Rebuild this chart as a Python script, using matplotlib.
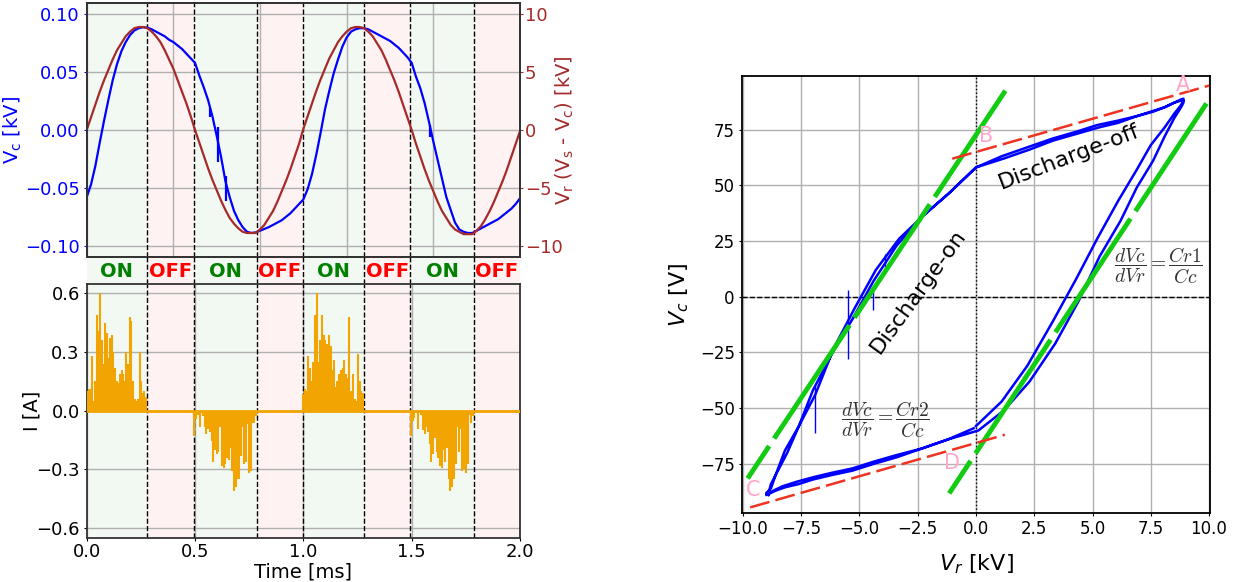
import numpy as np
import matplotlib
matplotlib.use("Agg")
import matplotlib.pyplot as plt

plt.rcParams['font.family'] = ['DejaVu Sans']

# ---------------- data ----------------
# sampling grid of the voltage records (ms)
t_step = 0.02
t_ms = np.round(np.arange(0, 2.0 + t_step / 2, t_step), 3)

# reactor voltage Vr (kV)
vr_kv = [
    0.0, 1.1, 2.2, 3.3, 4.3, 5.2, 6.1, 6.9, 7.5, 8.1, 8.5, 8.8, 8.9, 8.9, 8.8,
    8.5, 8.1, 7.6, 6.9, 6.1, 5.3, 4.3, 3.3, 2.3, 1.2,
    0.0, -1.1, -2.2, -3.3, -4.3, -5.2, -6.1, -6.9, -7.6, -8.1, -8.5, -8.8, -8.9,
    -8.9, -8.9, -8.6, -8.2, -7.6, -7.0, -6.2, -5.3, -4.4, -3.4, -2.3, -1.2,
    0.1, 1.2, 2.3, 3.4, 4.4, 5.3, 6.2, 6.9, 7.6, 8.1, 8.5, 8.8, 8.9, 8.9, 8.8,
    8.5, 8.1, 7.5, 6.9, 6.1, 5.2, 4.3, 3.3, 2.2, 1.1,
    0.0, -1.2, -2.3, -3.4, -4.4, -5.3, -6.2, -7.0, -7.6, -8.2, -8.6, -8.8, -9.0,
    -9.0, -9.0, -8.7, -8.3, -7.7, -7.0, -6.2, -5.3, -4.4, -3.4, -2.3, -1.2, -0.1,
]

# capacitor voltage Vc (kV)
vc_kv = [
    -0.058, -0.047, -0.031, -0.011, 0.008, 0.026, 0.043, 0.057, 0.068, 0.076,
    0.082, 0.086, 0.088, 0.0888, 0.0885, 0.087, 0.085, 0.083, 0.081, 0.078,
    0.076, 0.073, 0.070, 0.066, 0.062,
    0.058, 0.047, 0.037, 0.026, 0.012, -0.005, -0.023, -0.044, -0.058, -0.070,
    -0.078, -0.084, -0.088, -0.089, -0.0885, -0.087, -0.0855, -0.084, -0.082,
    -0.080, -0.078, -0.075, -0.072, -0.068, -0.064,
    -0.060, -0.051, -0.038, -0.021, -0.002, 0.018, 0.034, 0.049, 0.061, 0.072,
    0.080, 0.085, 0.087, 0.088, 0.088, 0.087, 0.085, 0.083, 0.081, 0.079,
    0.077, 0.074, 0.071, 0.067, 0.063,
    0.058, 0.046, 0.036, 0.023, 0.007, -0.010, -0.026, -0.042, -0.058, -0.069,
    -0.080, -0.086, -0.088, -0.089, -0.089, -0.087, -0.085, -0.083, -0.081,
    -0.079, -0.077, -0.074, -0.071, -0.068, -0.064, -0.059,
]

# short glitches on the Vc record: time, Vr at that time, low / high Vc (kV)
spike_t = [0.571, 0.606, 0.641, 1.583]
spike_vr = [-3.9, -5.5, -6.9, -4.4]
spike_lo = [0.011, -0.028, -0.061, -0.006]
spike_hi = [0.019, 0.003, -0.040, 0.004]

# discharge phases (ms)
phase_edges = [0.0, 0.278, 0.495, 0.786, 0.997, 1.280, 1.494, 1.786, 2.0]
phase_state = ['ON', 'OFF', 'ON', 'OFF', 'ON', 'OFF', 'ON', 'OFF']

# discharge current pulses (A), one list per ON phase
i_on1 = [0.10, 0.11, 0.11, 0.28, 0.05, 0.15, 0.49, 0.41, 0.60, 0.36, 0.24, 0.45,
         0.40, 0.27, 0.37, 0.39, 0.30, 0.22, 0.15, 0.14, 0.19, 0.21, 0.19, 0.15,
         0.30, 0.24, 0.48, 0.46, 0.15, 0.06, 0.05, 0.06, 0.30, 0.15, 0.09, 0.10,
         0.07]
i_on2 = [-0.13, -0.04, -0.02, -0.085, -0.01, -0.025, -0.085, -0.12, -0.095,
         -0.11, -0.155, -0.26, -0.20, -0.22, -0.21, -0.085, -0.28, -0.29, -0.27,
         -0.24, -0.25, -0.19, -0.31, -0.41, -0.39, -0.35, -0.35, -0.23, -0.085,
         -0.27, -0.26, -0.07, -0.32, -0.31, -0.06, -0.06, -0.025]
i_on3 = [0.086, 0.11, 0.10, 0.28, 0.22, 0.15, 0.25, 0.49, 0.60, 0.25, 0.36,
         0.49, 0.39, 0.36, 0.34, 0.39, 0.33, 0.21, 0.26, 0.12, 0.15, 0.19, 0.21,
         0.22, 0.26, 0.19, 0.17, 0.48, 0.10, 0.19, 0.06, 0.05, 0.29, 0.15, 0.10,
         0.09]
i_on4 = [-0.13, -0.05, -0.035, -0.01, -0.095, -0.01, -0.02, -0.10, -0.12,
         -0.085, -0.11, -0.17, -0.26, -0.22, -0.14, -0.21, -0.24, -0.28, -0.29,
         -0.20, -0.26, -0.19, -0.35, -0.41, -0.39, -0.35, -0.27, -0.085, -0.21,
         -0.095, -0.31, -0.30, -0.32, -0.27, -0.02, -0.06, -0.025]
i_bursts = [i_on1, i_on2, i_on3, i_on4]

# straight-line guides on the Vc-Vr plane: endpoints (kV, V)
on_vr = [[-9.8, 1.26], [-1.15, 9.89]]
on_vc = [[-81.5, 92.4], [-88.2, 86.7]]
off_vr = [[-1.02, 10.0], [-9.69, 1.24]]
off_vc = [[61.9, 94.7], [-94.5, -61.9]]

corner_names = ['A', 'B', 'C', 'D']
corner_vr = [8.9, 0.45, -9.58, -1.03]
corner_vc = [95.0, 72.0, -86.7, -74.7]

# ---------------- styling ----------------
C_VC = 'blue'
C_VR = 'brown'
C_I = '#f2a500'
GRID = dict(color='#b0b0b0', lw=1.0)
FRAME = '#333333'

fig = plt.figure(figsize=(12.39, 5.82), dpi=100)
ax_v = fig.add_axes([0.06998, 0.55893, 0.34972, 0.43540])
ax_r = ax_v.twinx()
ax_band = fig.add_axes([0.06998, 0.51186, 0.34972, 0.04708])
ax_i = fig.add_axes([0.06998, 0.07646, 0.34972, 0.43540])
ax_L = fig.add_axes([0.59871, 0.11857, 0.37805, 0.75085])


def shade_phases(ax):
    for a, b, s in zip(phase_edges[:-1], phase_edges[1:], phase_state):
        ax.axvspan(a, b, color='green' if s == 'ON' else 'red', alpha=0.05, lw=0,
                   zorder=0)
    for b in phase_edges[1:-1]:
        ax.axvline(b, color='black', ls='--', lw=1.0, zorder=2.5)


# ---- voltages vs time ----
shade_phases(ax_v)
ax_v.plot(t_ms, vc_kv, color=C_VC, lw=1.6, zorder=3)
ax_v.vlines(spike_t, spike_lo, spike_hi, color=C_VC, lw=1.6, zorder=3)
ax_r.plot(t_ms, vr_kv, color=C_VR, lw=1.6)
ax_v.set_xlim(0, 2)
ax_v.set_xticks(np.arange(0, 2.01, 0.4))
ax_v.tick_params(axis='x', labelbottom=False, length=0)
ax_v.set_ylim(-0.1095, 0.1095)
ax_v.set_yticks([-0.10, -0.05, 0.0, 0.05, 0.10])
ax_r.set_ylim(-10.95, 10.95)
ax_r.set_yticks([-10, -5, 0, 5, 10])
ax_v.grid(True, **GRID)
ax_v.tick_params(axis='y', colors=C_VC, labelsize=13, length=2, pad=3)
ax_r.tick_params(axis='y', colors=C_VR, labelsize=13, length=2, pad=1.5)
ax_v.set_ylabel(r'$\mathregular{V_c}$ [kV]', color=C_VC, fontsize=14)
ax_v.yaxis.set_label_coords(-0.145, 0.5)
ax_r.set_ylabel(r'$\mathregular{V_r}$ ($\mathregular{V_s}$ - $\mathregular{V_c}$) [kV]',
                color=C_VR, fontsize=14)
ax_r.yaxis.set_label_coords(1.078, 0.5)
for a in (ax_v, ax_r):
    for sp in a.spines.values():
        sp.set_color(FRAME)
        sp.set_linewidth(1.3)

# ---- phase labels ----
shade_phases(ax_band)
ax_band.set_xlim(0, 2)
ax_band.set_ylim(0, 1)
ax_band.axis('off')
for a, b, s in zip(phase_edges[:-1], phase_edges[1:], phase_state):
    ax_band.text((a + b) / 2, 0.45, s, ha='center', va='center', fontsize=14,
                 fontweight='bold', color='green' if s == 'ON' else 'red')

# ---- current vs time ----
shade_phases(ax_i)
ax_i.axhline(0, color=C_I, lw=2, zorder=3)
on_phases = [(a, b) for a, b, s in zip(phase_edges[:-1], phase_edges[1:], phase_state)
             if s == 'ON']
for (a, b), burst in zip(on_phases, i_bursts):
    tt = np.linspace(a + 0.002, b - 0.004, len(burst))
    ax_i.vlines(tt, 0, burst, color=C_I, lw=1.5, zorder=3)
ax_i.set_xlim(0, 2)
ax_i.set_xticks([0.0, 0.5, 1.0, 1.5, 2.0])
ax_i.set_ylim(-0.648, 0.648)
ax_i.set_yticks([-0.6, -0.3, 0.0, 0.3, 0.6])
ax_i.grid(True, **GRID)
ax_i.tick_params(axis='y', labelsize=13, length=2, pad=3)
ax_i.tick_params(axis='x', labelsize=13, length=2, pad=2)
ax_i.set_xlabel('Time [ms]', fontsize=14)
ax_i.xaxis.set_label_coords(0.5, -0.1)
ax_i.set_ylabel('I [A]', fontsize=14)
ax_i.yaxis.set_label_coords(-0.105, 0.5)
for sp in ax_i.spines.values():
    sp.set_color(FRAME)
    sp.set_linewidth(1.3)

# ---- Vc - Vr plane ----
ax_L.plot(vr_kv, np.array(vc_kv) * 1000, color=C_VC, lw=1.8, zorder=3)
ax_L.vlines(spike_vr, np.array(spike_lo) * 1000, np.array(spike_hi) * 1000,
            color=C_VC, lw=1.0, zorder=3)
for xs, ys in zip(on_vr, on_vc):
    ax_L.plot(xs, ys, color='#11cc11', lw=3.5, ls=(20, (28, 1.85)), zorder=4)
for xs, ys in zip(off_vr, off_vc):
    ax_L.plot(xs, ys, color='#ee3322', lw=1.8, ls=(0, (8, 2.5)), zorder=4)
ax_L.axhline(0, color='black', ls='--', lw=1.0, zorder=2)
ax_L.axvline(0, color='black', ls=':', lw=1.0, zorder=2)
for name, x, y in zip(corner_names, corner_vr, corner_vc):
    ax_L.text(x, y, name, ha='center', va='center', fontsize=15, color='#ffa6c9',
              zorder=5)
ax_L.text(4.0, 62.6, 'Discharge-off', ha='center', va='center', fontsize=16,
          rotation=21, rotation_mode='anchor', zorder=5)
ax_L.text(-2.5, 2.5, 'Discharge-on', ha='center', va='center', fontsize=16,
          rotation=54, rotation_mode='anchor', zorder=5)
ax_L.text(7.83, 13.9, r'$\dfrac{dVc}{dVr}=\dfrac{Cr1}{Cc}$', ha='center',
          va='center', fontsize=14, color='#333333', math_fontfamily='cm', zorder=5)
ax_L.text(-3.9, -55.2, r'$\dfrac{dVc}{dVr}=\dfrac{Cr2}{Cc}$', ha='center',
          va='center', fontsize=14, color='#333333', math_fontfamily='cm', zorder=5)
ax_L.set_xlim(-10.05, 10.05)
ax_L.set_ylim(-97, 99)
ax_L.set_xticks(np.arange(-10, 10.01, 2.5))
ax_L.set_yticks(np.arange(-75, 76, 25))
ax_L.grid(True, **GRID)
ax_L.tick_params(labelsize=12, length=2, pad=3)
ax_L.set_xlabel(r'$V_r$ [kV]', fontsize=16)
ax_L.xaxis.set_label_coords(0.5, -0.09)
ax_L.set_ylabel(r'$V_c$ [V]', fontsize=16)
ax_L.yaxis.set_label_coords(-0.108, 0.5)
for sp in ax_L.spines.values():
    sp.set_color('black')
    sp.set_linewidth(1.3)

fig.savefig('out.png', dpi=100)
